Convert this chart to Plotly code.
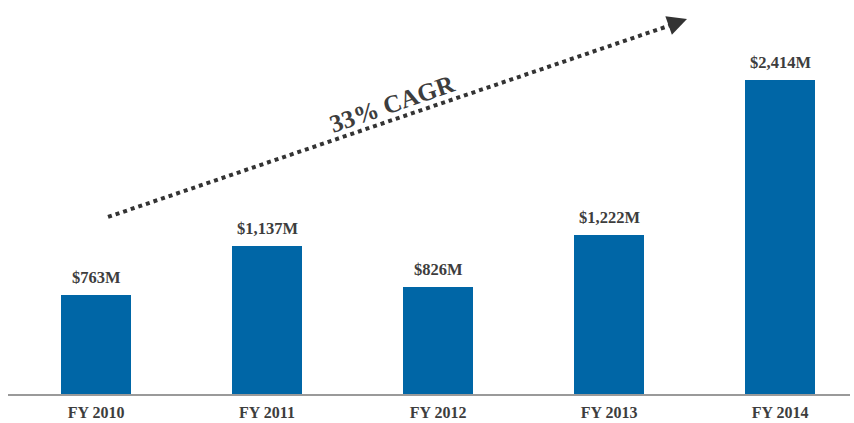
import plotly.graph_objects as go

categories = ["FY 2010", "FY 2011", "FY 2012", "FY 2013", "FY 2014"]
revenue_m = [763, 1137, 826, 1222, 2414]
value_labels = ["$763M", "$1,137M", "$826M", "$1,222M", "$2,414M"]
cagr_label = "33% CAGR"

xs = list(range(len(categories)))
SERIF = "Liberation Serif, Times New Roman, serif"
TXT = "#3d3d3d"

fig = go.Figure()
fig.add_trace(go.Bar(
    x=xs, y=revenue_m, width=0.41,
    marker=dict(color="#0066a6", line=dict(width=0)),
    hoverinfo="skip",
))

annotations = []
for i, (v, lab) in enumerate(zip(revenue_m, value_labels)):
    annotations.append(dict(
        x=i, y=v, xref="x", yref="y", text=f"<b>{lab}</b>", showarrow=False,
        yanchor="bottom", yshift=6, font=dict(family=SERIF, size=16.5, color=TXT),
    ))

# trend arrow (decoration)
x0p, y0p = 0.1188, 0.461
x1p, y1p = 0.793, 0.965
annotations.append(dict(
    x=0.8064, y=0.9766, xref="paper", yref="paper", ax=-14, ay=5,
    showarrow=True, arrowhead=2, arrowsize=1.3, arrowwidth=3, arrowcolor="#333333", text="",
))
annotations.append(dict(
    x=0.457, y=0.851, xref="paper", yref="paper", text=f"<b>{cagr_label}</b>",
    showarrow=False, textangle=-19, font=dict(family=SERIF, size=25, color=TXT),
))

fig.update_layout(
    width=854, height=423,
    margin=dict(l=8, r=4, t=10, b=29, autoexpand=False),
    paper_bgcolor="white", plot_bgcolor="white",
    showlegend=False,
    bargap=0,
    annotations=annotations,
    shapes=[dict(type="line", xref="paper", yref="paper", x0=x0p, y0=y0p, x1=x1p, y1=y1p,
                 line=dict(color="#333333", width=4, dash="dot"))],
    xaxis=dict(
        range=[-0.5146, 4.409], tickvals=xs,
        ticktext=[f"<b>{c}</b>" for c in categories],
        showgrid=False, zeroline=False, showline=True, linecolor="#9a9a9a", linewidth=1.5,
        ticks="", ticklabelstandoff=3, automargin=False,
        tickfont=dict(family=SERIF, size=16, color=TXT), fixedrange=True,
    ),
    yaxis=dict(range=[0, 2952], visible=False, showgrid=False, zeroline=False, fixedrange=True),
)

fig.write_html("out.html", config={"displayModeBar": False})
